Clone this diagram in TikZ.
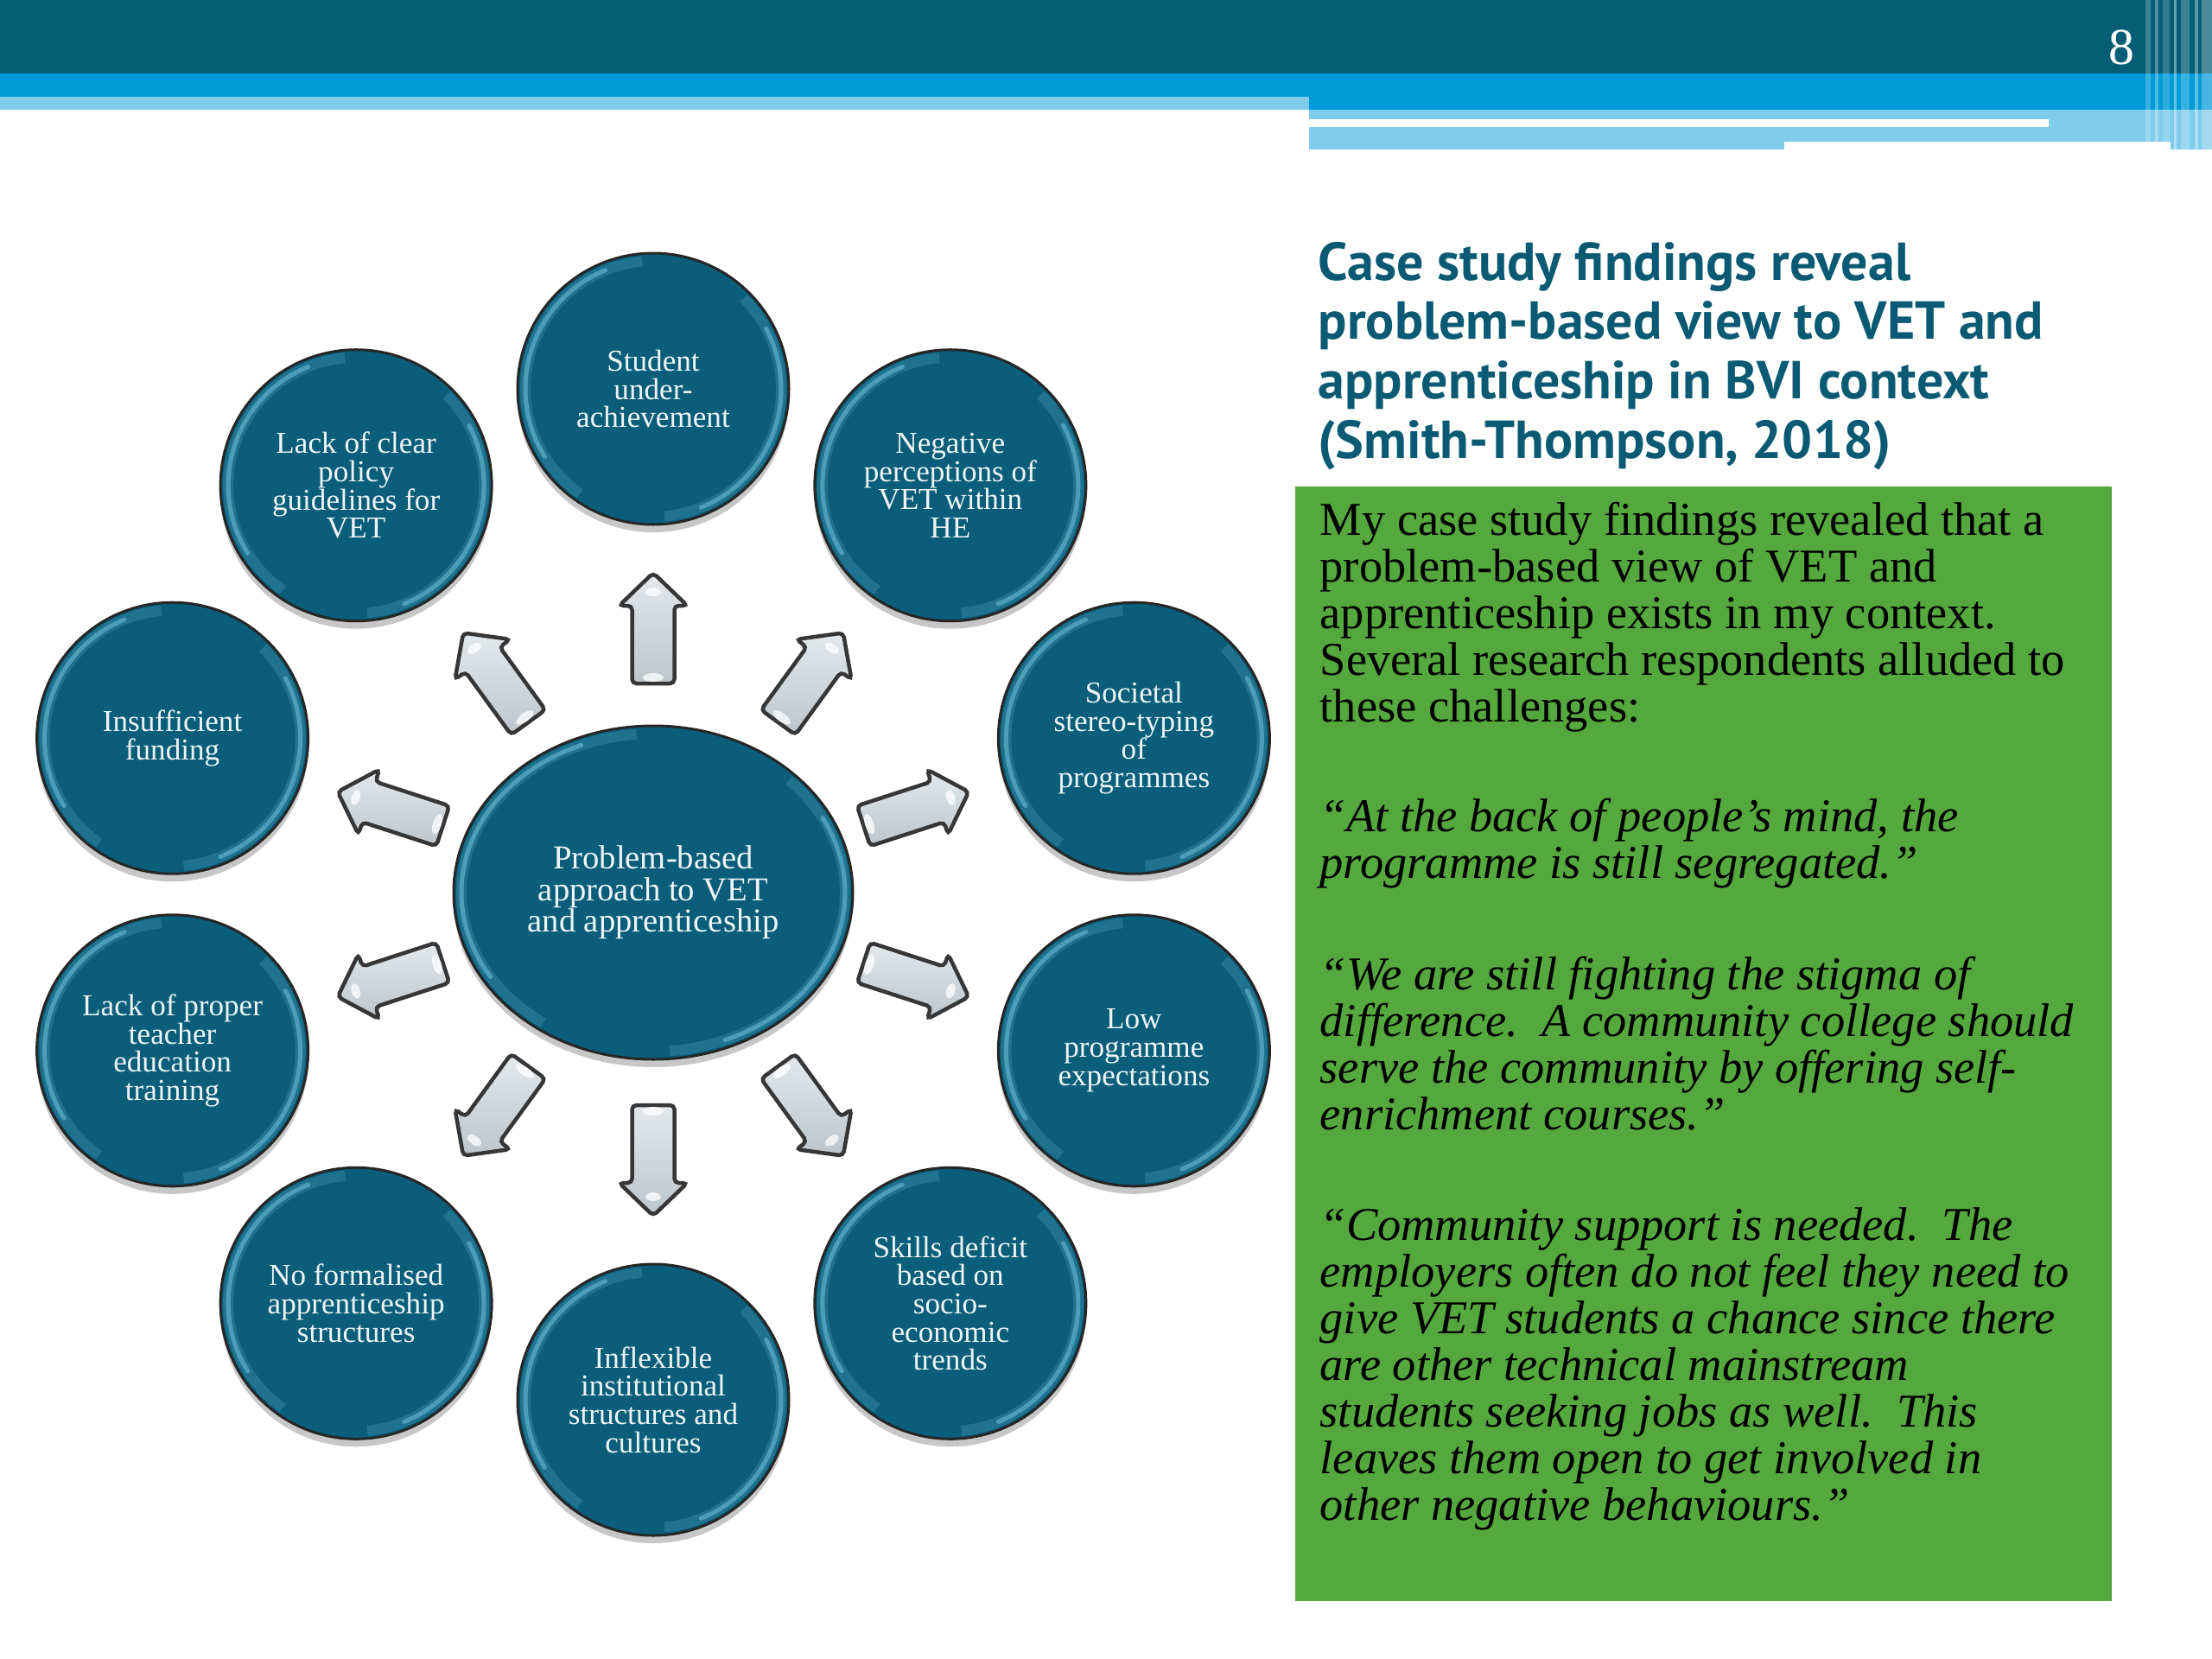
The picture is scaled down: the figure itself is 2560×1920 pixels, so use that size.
\documentclass[tikz,border=0pt]{standalone}
\usepackage{fontspec}
\setmainfont{Liberation Serif}
\newfontfamily\titlefont{PT Sans}
\usetikzlibrary{shapes.geometric,shadows,calc}

\definecolor{hdrdark}{HTML}{065E76}
\definecolor{hdrblue}{HTML}{009BD8}
\definecolor{hdrlight}{HTML}{80CDEB}
\definecolor{bubblefill}{HTML}{0A5E7A}
\definecolor{glosscol}{HTML}{7FD3EC}
\definecolor{titleblue}{HTML}{0B5A73}
\definecolor{boxgreen}{HTML}{55A83D}
\definecolor{arrowtop}{HTML}{E3E8EB}
\definecolor{arrowbot}{HTML}{BCC6CC}
\definecolor{arrowline}{HTML}{363636}
\definecolor{bubbletext}{HTML}{EEF4F7}

\newcommand\glossring[2]{%
  \coordinate (gc) at (path picture bounding box.center);
  \draw[glosscol, line width=1.2mm, opacity=0.18] ($(gc)+(95:#1 and #2)$) arc[start angle=95, end angle=235, x radius=#1, y radius=#2];
  \draw[glosscol, line width=0.5mm, opacity=0.45, line cap=round] ($(gc)+(112:#1 and #2)$) arc[start angle=112, end angle=212, x radius=#1, y radius=#2];
  \draw[glosscol, line width=1.2mm, opacity=0.18] ($(gc)+(-85:#1 and #2)$) arc[start angle=-85, end angle=45, x radius=#1, y radius=#2];
  \draw[glosscol, line width=0.5mm, opacity=0.45, line cap=round] ($(gc)+(-68:#1 and #2)$) arc[start angle=-68, end angle=28, x radius=#1, y radius=#2];
}

\tikzset{
  bubble/.style={circle, draw=black!85, line width=0.3mm, fill=bubblefill,
    minimum size=31.4mm, inner sep=0pt, text=bubbletext, align=center,
    font=\fontsize{10}{9.3}\selectfont,
    drop shadow={shadow xshift=0mm, shadow yshift=-0.9mm, opacity=0.22, fill=black},
    path picture={\glossring{14.8mm}{14.8mm}}},
  hub/.style={ellipse, draw=black!85, line width=0.3mm, fill=bubblefill,
    minimum width=46.2mm, minimum height=38.6mm, inner sep=0pt, text=bubbletext, align=center,
    font=\fontsize{11}{10.4}\selectfont,
    drop shadow={shadow xshift=0mm, shadow yshift=-0.9mm, opacity=0.22, fill=black},
    path picture={\glossring{22.2mm}{18.4mm}}},
  blockarrow/.style={draw=arrowline, line width=0.45mm, rounded corners=0.5mm,
    top color=arrowtop, bottom color=arrowbot},
  bodytext/.style={anchor=base west, inner sep=0pt, align=left, text=black,
    font=\fontsize{15.5}{15.34}\selectfont},
  quotetext/.style={bodytext, font=\fontsize{15.5}{15.34}\selectfont\itshape},
}

\newcommand\blockarr[3]{%
  \coordinate (#3) at ({756+#2*cos(#1)},{1035-#2*sin(#1)});
  \begin{scope}[shift={(#3)}, rotate=#1]
    \draw[blockarrow] (-64,-24.5) -- (26,-24.5) -- (26,-39.5) -- (64,0) -- (26,39.5) -- (26,24.5) -- (-64,24.5) -- cycle;
    \fill[white, opacity=0.75] (42,0) ellipse [x radius=5, y radius=9];
    \fill[white, opacity=0.75] (-57,0) ellipse [x radius=5, y radius=12];
  \end{scope}}

\begin{document}
\begin{tikzpicture}[x=0.1mm, y=-0.1mm]
\useasboundingbox[fill=white] (0,0) rectangle (2560,1920);

% header bands
\fill[hdrdark] (0,0) rectangle (2560,85);
\fill[hdrblue] (0,85) rectangle (2560,112);
\fill[hdrlight] (0,112) rectangle (1515,127);
\fill[hdrblue] (1515,112) rectangle (2560,127);
\fill[hdrlight] (1515,127) rectangle (2560,173);
\fill[white] (1515,138) rectangle (2371,147);
\fill[white] (2065,164) rectangle (2512,173);
\foreach \xa/\w/\o in {2483/6/0.22, 2494/4/0.3, 2503/8/0.18, 2516/3/0.4, 2524/10/0.22, 2540/4/0.35, 2548/12/0.28}
  \fill[white, opacity=\o] (\xa,0) rectangle ++(\w,173);
\node[text=white, font=\fontsize{17}{17}\selectfont, inner sep=0pt] (pnum) at (2455,55) {8};

% arrows
\blockarr{90}{308}{a1}
\blockarr{54}{310}{a2}
\blockarr{18}{320}{a3}
\blockarr{-18}{320}{a4}
\blockarr{-54}{310}{a5}
\blockarr{-90}{308}{a6}
\blockarr{-126}{310}{a7}
\blockarr{-162}{320}{a8}
\blockarr{162}{320}{a9}
\blockarr{126}{310}{a10}

% hub
\node[hub] (hub) at (756,1033) {Problem-based\\approach to VET\\and apprenticeship};

% bubbles
\node[bubble] (c1) at ({756+585*cos(90)},{1035-585*sin(90)}) {Student\\under-\\achievement};
\node[bubble] (c2) at ({756+585*cos(54)},{1035-585*sin(54)}) {Negative\\perceptions of\\VET within\\HE};
\node[bubble] (c3) at ({756+585*cos(18)},{1035-585*sin(18)}) {Societal\\stereo-typing\\of\\programmes};
\node[bubble] (c4) at ({756+585*cos(-18)},{1035-585*sin(-18)}) {Low\\programme\\expectations};
\node[bubble] (c5) at ({756+585*cos(-54)},{1035-585*sin(-54)}) {Skills deficit\\based on\\socio-\\economic\\trends};
\node[bubble] (c6) at ({756+585*cos(-90)},{1035-585*sin(-90)}) {Inflexible\\institutional\\structures and\\cultures};
\node[bubble] (c7) at ({756+585*cos(-126)},{1035-585*sin(-126)}) {No formalised\\apprenticeship\\structures};
\node[bubble] (c8) at ({756+585*cos(-162)},{1035-585*sin(-162)}) {Lack of proper\\teacher\\education\\training};
\node[bubble] (c9) at ({756+585*cos(162)},{1035-585*sin(162)}) {Insufficient\\funding};
\node[bubble] (c10) at ({756+585*cos(126)},{1035-585*sin(126)}) {Lack of clear\\policy\\guidelines for\\VET};

% title (anchor = baseline of last line)
\node[anchor=base west, inner sep=0pt, align=left, text=titleblue,
  font=\titlefont\bfseries\fontsize{17.6}{19.5}\selectfont] (title) at (1525,530)
  {Case study findings reveal\\problem-based view to VET and\\apprenticeship in BVI context\\(Smith-Thompson, 2018)};

% green box (text anchors = baseline of last line)
\fill[boxgreen] (1499,563) rectangle (2444,1853);
\node[bodytext] (p1) at (1527,835) {My case study findings revealed that a\\problem-based view of VET and\\apprenticeship exists in my context.\\Several research respondents alluded to\\these challenges:};
\node[quotetext] (p2) at (1527,1016) {“At the back of people’s mind, the\\programme is still segregated.”};
\node[quotetext] (p3) at (1527,1307) {“We are still fighting the stigma of\\difference.\ \ A community college should\\serve the community by offering self-\\enrichment courses.”};
\node[quotetext] (p4) at (1527,1759) {“Community support is needed.\ \ The\\employers often do not feel they need to\\give VET students a chance since there\\are other technical mainstream\\students seeking jobs as well.\ \ This\\leaves them open to get involved in\\other negative behaviours.”};
\end{tikzpicture}
\end{document}
